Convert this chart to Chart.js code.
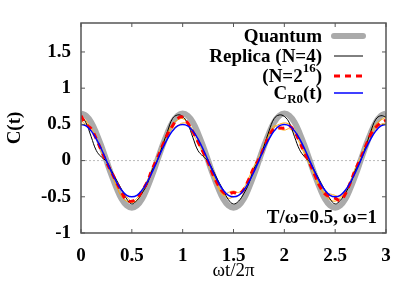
<!DOCTYPE html>
<html>
<head>
<meta charset="utf-8">
<script src="https://cdn.jsdelivr.net/npm/chart.js@4.4.0/dist/chart.umd.min.js"></script>
<style>
  html, body { margin: 0; padding: 0; background: #fff; }
  #wrap { width: 409px; height: 286px; }
</style>
</head>
<body>
<div id="wrap"><canvas id="chart" width="409" height="286"></canvas></div>
<script>
// time axis, omega t / 2 pi, sampled every 0.05
const times = [0, 0.05, 0.1, 0.15, 0.2, 0.25, 0.3, 0.35, 0.4, 0.45, 0.5, 0.55, 0.6, 0.65, 0.7, 0.75, 0.8, 0.85, 0.9, 0.95,
    1, 1.05, 1.1, 1.15, 1.2, 1.25, 1.3, 1.35, 1.4, 1.45, 1.5, 1.55, 1.6, 1.65, 1.7, 1.75, 1.8, 1.85, 1.9, 1.95,
    2, 2.05, 2.1, 2.15, 2.2, 2.25, 2.3, 2.35, 2.4, 2.45, 2.5, 2.55, 2.6, 2.65, 2.7, 2.75, 2.8, 2.85, 2.9, 2.95, 3];

const quantum = [0.65, 0.62, 0.53, 0.38, 0.2, 0, -0.2, -0.38, -0.53, -0.62, -0.65, -0.62, -0.53, -0.38, -0.2, 0, 0.2, 0.38, 0.53, 0.62,
    0.65, 0.62, 0.53, 0.38, 0.2, 0, -0.2, -0.38, -0.53, -0.62, -0.65, -0.62, -0.53, -0.38, -0.2, 0, 0.2, 0.38, 0.53, 0.62,
    0.65, 0.62, 0.53, 0.38, 0.2, 0, -0.2, -0.38, -0.53, -0.62, -0.65, -0.62, -0.53, -0.38, -0.2, 0, 0.2, 0.38, 0.53, 0.62, 0.65];

const replica4 = [0.62, 0.52, 0.33, 0.14, 0.05, -0.01, -0.14, -0.27, -0.4, -0.53, -0.6, -0.55, -0.45, -0.33, -0.13, 0, 0.2, 0.4, 0.58, 0.63,
    0.61, 0.51, 0.32, 0.14, 0.06, -0.01, -0.14, -0.28, -0.41, -0.54, -0.6, -0.56, -0.46, -0.32, -0.12, 0.01, 0.2, 0.41, 0.58, 0.63,
    0.61, 0.52, 0.33, 0.15, 0.05, -0.02, -0.15, -0.28, -0.41, -0.53, -0.6, -0.55, -0.45, -0.32, -0.13, 0, 0.19, 0.4, 0.57, 0.62, 0.6];

const replica216 = [0.62, 0.5, 0.44, 0.3, 0.14, -0.02, -0.16, -0.3, -0.44, -0.55, -0.56, -0.52, -0.42, -0.3, -0.12, 0.03, 0.2, 0.36, 0.48, 0.58,
    0.6, 0.52, 0.4, 0.26, 0.12, -0.02, -0.2, -0.34, -0.44, -0.46, -0.44, -0.46, -0.4, -0.26, -0.1, 0.02, 0.18, 0.34, 0.44, 0.45,
    0.45, 0.48, 0.4, 0.26, 0.1, -0.04, -0.2, -0.36, -0.46, -0.5, -0.52, -0.55, -0.46, -0.3, -0.12, 0.03, 0.2, 0.36, 0.46, 0.52, 0.56];

const cR0 = [0.5, 0.48, 0.41, 0.3, 0.16, 0, -0.16, -0.3, -0.41, -0.48, -0.5, -0.48, -0.41, -0.3, -0.16, 0, 0.16, 0.3, 0.41, 0.48,
    0.5, 0.48, 0.41, 0.3, 0.16, 0, -0.16, -0.3, -0.41, -0.48, -0.5, -0.48, -0.41, -0.3, -0.16, 0, 0.16, 0.3, 0.41, 0.48,
    0.5, 0.48, 0.41, 0.3, 0.16, 0, -0.16, -0.3, -0.41, -0.48, -0.5, -0.48, -0.41, -0.3, -0.16, 0, 0.16, 0.3, 0.41, 0.48, 0.5];

// thin orange runs (no legend entry)
const orangeA = [0.6, 0.55, 0.42, 0.3, 0.16, 0, -0.18, -0.36, -0.5, -0.56, -0.58, -0.55, -0.45, -0.3, -0.12, 0.02, 0.2, 0.38, 0.5, 0.56,
    0.58, 0.52, 0.42, 0.3, 0.14, -0.02, -0.2, -0.36, -0.46, -0.52, -0.5, -0.48, -0.42, -0.28, -0.12, 0.02, 0.2, 0.36, 0.46, 0.5,
    0.52, 0.5, 0.42, 0.28, 0.12, -0.02, -0.2, -0.36, -0.48, -0.54, -0.56, -0.52, -0.44, -0.3, -0.12, 0.02, 0.2, 0.38, 0.5, 0.56, 0.6];
const orangeB = [0.55, 0.5, 0.45, 0.32, 0.12, -0.02, -0.2, -0.32, -0.42, -0.5, -0.56, -0.52, -0.4, -0.28, -0.14, 0.04, 0.22, 0.36, 0.44, 0.48,
    0.52, 0.5, 0.38, 0.24, 0.1, -0.04, -0.22, -0.38, -0.48, -0.44, -0.42, -0.44, -0.38, -0.24, -0.08, 0.04, 0.22, 0.38, 0.48, 0.44,
    0.42, 0.44, 0.38, 0.24, 0.08, -0.06, -0.22, -0.38, -0.44, -0.46, -0.48, -0.5, -0.42, -0.28, -0.1, 0.04, 0.22, 0.36, 0.44, 0.5, 0.52];

const xTicks = [0, 0.5, 1, 1.5, 2, 2.5, 3];
const yTicks = [-1, -0.5, 0, 0.5, 1, 1.5];

const legendRows = [
    { text: 'Quantum', color: '#aaaaaa', width: 6, dash: [] },
    { text: 'Replica (N=4)', color: '#000000', width: 1, dash: [] },
    { text: '(N=2', sup: '16', after: ')', color: '#ff0000', width: 3, dash: [6, 5] },
    { text: 'C', sub: 'R0', after: '(t)', color: '#0000ff', width: 1.5, dash: [] }
];
const note = 'T/\u03c9=0.5, \u03c9=1';

const SERIF = '"Liberation Serif", "Times New Roman", serif';

function pts(ys) {
    return times.map((t, i) => ({ x: t, y: ys[i] }));
}

const framePlugin = {
    id: 'frame',
    beforeDatasetsDraw(chart) {
        const { ctx, chartArea: a, scales } = chart;
        const y0 = scales.y.getPixelForValue(0);
        ctx.save();
        ctx.strokeStyle = '#bbbbbb';
        ctx.lineWidth = 1;
        ctx.setLineDash([2, 2]);
        ctx.beginPath();
        ctx.moveTo(a.left, y0);
        ctx.lineTo(a.right, y0);
        ctx.stroke();
        ctx.restore();
    },
    afterDatasetsDraw(chart) {
        const { ctx, chartArea: a, scales } = chart;
        ctx.save();
        ctx.strokeStyle = '#555555';
        ctx.lineWidth = 1.5;
        ctx.strokeRect(a.left, a.top, a.right - a.left, a.bottom - a.top);
        ctx.lineWidth = 1;
        ctx.beginPath();
        xTicks.forEach(v => {
            const px = scales.x.getPixelForValue(v);
            ctx.moveTo(px, a.bottom); ctx.lineTo(px, a.bottom - 4);
            ctx.moveTo(px, a.top); ctx.lineTo(px, a.top + 4);
        });
        yTicks.forEach(v => {
            const py = scales.y.getPixelForValue(v);
            ctx.moveTo(a.left, py); ctx.lineTo(a.left + 4, py);
            ctx.moveTo(a.right, py); ctx.lineTo(a.right - 4, py);
        });
        ctx.stroke();

        // legend, text right-aligned with sample on the right
        const textRight = 322;
        const ys = [37, 57, 77, 94];
        const big = 'bold 19px ' + SERIF;
        const small = 'bold 13px ' + SERIF;
        ctx.fillStyle = '#000';
        ctx.textBaseline = 'middle';
        ctx.textAlign = 'left';
        legendRows.forEach((r, i) => {
            const y = ys[i];
            ctx.font = big;
            const w1 = ctx.measureText(r.text).width;
            const w3 = r.after ? ctx.measureText(r.after).width : 0;
            ctx.font = small;
            const extra = r.sup || r.sub || '';
            const w2 = extra ? ctx.measureText(extra).width : 0;
            let x = textRight - (w1 + w2 + w3);
            ctx.font = big;
            ctx.fillText(r.text, x, y);
            x += w1;
            if (extra) {
                ctx.font = small;
                ctx.fillText(extra, x, r.sup ? y - 8 : y + 6);
                x += w2;
            }
            if (r.after) {
                ctx.font = big;
                ctx.fillText(r.after, x, y);
            }
            ctx.strokeStyle = r.color;
            ctx.lineWidth = r.width;
            ctx.setLineDash(r.dash);
            ctx.lineCap = r.width > 4 ? 'round' : 'butt';
            ctx.beginPath();
            ctx.moveTo(334, y - 1);
            ctx.lineTo(363, y - 1);
            ctx.stroke();
            ctx.setLineDash([]);
        });

        ctx.font = big;
        ctx.textAlign = 'right';
        ctx.fillStyle = '#000';
        ctx.fillText(note, 377, 218);
        ctx.restore();
    }
};

new Chart(document.getElementById('chart').getContext('2d'), {
    type: 'line',
    data: {
        datasets: [
            { label: 'Quantum', data: pts(quantum), borderColor: '#aaaaaa', borderWidth: 6, order: 6 },
            { label: 'orangeA', data: pts(orangeA), borderColor: '#ffa500', borderWidth: 1, order: 5 },
            { label: 'orangeB', data: pts(orangeB), borderColor: '#ffb020', borderWidth: 1, order: 4 },
            { label: 'Replica (N=4)', data: pts(replica4), borderColor: '#000000', borderWidth: 1, order: 3 },
            { label: '(N=2^16)', data: pts(replica216), borderColor: '#ff0000', borderWidth: 3, borderDash: [6, 5], order: 2 },
            { label: 'C_R0(t)', data: pts(cR0), borderColor: '#0000ff', borderWidth: 1.5, order: 1 }
        ]
    },
    options: {
        responsive: false,
        animation: false,
        events: [],
        elements: { point: { radius: 0 }, line: { tension: 0.4, fill: false } },
        layout: { padding: { left: 0, top: 23, right: 23, bottom: 0 } },
        plugins: { legend: { display: false }, tooltip: { enabled: false } },
        scales: {
            x: {
                type: 'linear', min: 0, max: 3,
                afterBuildTicks: s => { s.ticks = xTicks.map(v => ({ value: v })); },
                afterFit: s => { s.height = 53; },
                grid: { display: false, drawTicks: false },
                border: { display: false },
                ticks: { color: '#000', padding: 12, font: { family: SERIF, size: 19, weight: 'bold' }, callback: v => String(v) },
                title: { display: true, text: '\u03c9t/2\u03c0', color: '#000', padding: { top: 0, bottom: 4 }, font: { family: SERIF, size: 19 } }
            },
            y: {
                type: 'linear', min: -1, max: 1.9,
                afterBuildTicks: s => { s.ticks = yTicks.map(v => ({ value: v })); },
                afterFit: s => { s.width = 81; },
                grid: { display: false, drawTicks: false },
                border: { display: false },
                ticks: { color: '#000', padding: 10, font: { family: SERIF, size: 19, weight: 'bold' }, callback: v => String(v) },
                title: { display: true, text: 'C(t)', color: '#000', padding: { top: 4, bottom: 0 }, font: { family: SERIF, size: 19, weight: 'bold' } }
            }
        }
    },
    plugins: [framePlugin]
});
</script>
</body>
</html>
